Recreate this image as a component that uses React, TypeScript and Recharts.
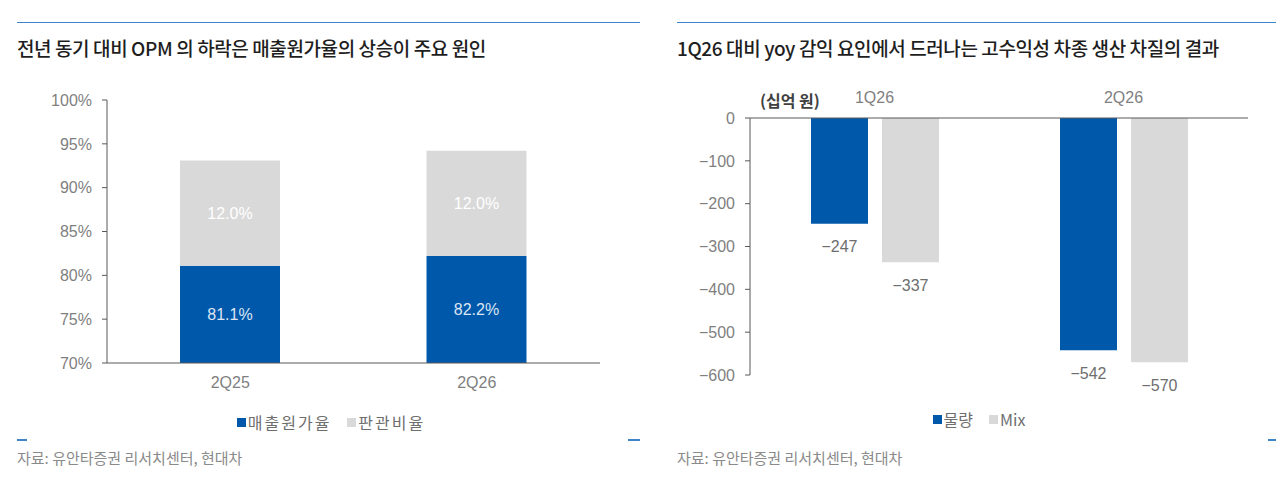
import { Bar, BarChart, LabelList, Legend, XAxis, YAxis } from "recharts";

// 좌: 매출원가율 / 판관비율 (%)
const quarters = ["2Q25", "2Q26"];
const cogsRatio = [81.1, 82.2];
const sgaRatio = [12.0, 12.0];
const pctTicks = [70, 75, 80, 85, 90, 95, 100];

// 우: yoy 감익 요인 (십억 원)
const periods = ["1Q26", "2Q26"];
const volumeEffect = [-247, -542];
const mixEffect = [-337, -570];
const wonTicks = [-600, -500, -400, -300, -200, -100, 0];

const BLUE = "#0058AB";
const GREY = "#D9D9D9";
const AXIS = "#595959";
const TICK = "#7F7F7F";
const FONT = "'Liberation Sans', 'Noto Sans CJK KR', sans-serif";
const KFONT = "'Noto Sans CJK KR', 'Noto Sans', sans-serif";

const ratioData = quarters.map((q, i) => ({ name: q, cogs: cogsRatio[i], sga: sgaRatio[i] }));
const effectData = periods.map((p, i) => ({ name: p, volume: volumeEffect[i], mix: mixEffect[i] }));

const LEFT_H = 440;
const LEFT_MARGIN = { top: 100, right: 40, bottom: 47, left: 47 };
const X_AXIS_H = 30;
const leftPlotBottom = LEFT_H - LEFT_MARGIN.bottom - X_AXIS_H;

const minus = (v: number) => (v < 0 ? `\u2212${Math.abs(v)}` : `${v}`);

function box(p: any) {
  const vb = p.viewBox ?? {};
  return {
    x: p.x ?? vb.x,
    y: p.y ?? vb.y,
    width: p.width ?? vb.width,
    height: p.height ?? vb.height,
  };
}

// label centred on the visible (clipped) part of the bar
function InsideLabel(props: any) {
  const { x, y, width, height } = box(props);
  const top = Math.min(y, y + height);
  const bottom = Math.min(Math.max(y, y + height), leftPlotBottom);
  return (
    <text
      x={x + width / 2}
      y={(top + bottom) / 2}
      textAnchor="middle"
      dominantBaseline="central"
      fill={props.fill}
      fontSize={16}
      fontFamily={FONT}
    >
      {Number(props.value).toFixed(1)}%
    </text>
  );
}

function BelowLabel(props: any) {
  const { x, y, width, height } = box(props);
  const bottom = Math.max(y, y + height);
  return (
    <text
      x={x + width / 2}
      y={bottom + 23}
      textAnchor="middle"
      dominantBaseline="central"
      fill="#6E6E6E"
      fontSize={16}
      fontFamily={FONT}
    >
      {minus(Number(props.value))}
    </text>
  );
}

function LegendRow({ payload, shift, spacing }: any) {
  return (
    <div style={{ display: "flex", justifyContent: "center", gap: 16, paddingLeft: shift, fontFamily: KFONT, fontSize: 16, color: "#6E6E6E", letterSpacing: spacing }}>
      {(payload ?? []).map((p: any) => (
        <span key={p.value} style={{ display: "flex", alignItems: "center", gap: 2 }}>
          <span style={{ width: 9, height: 9, background: p.color, display: "inline-block" }} />
          {p.value}
        </span>
      ))}
    </div>
  );
}

const titleStyle = {
  position: "absolute" as const,
  fontFamily: KFONT,
  fontSize: 19,
  fontWeight: 500,
  color: "#1E1E1E",
  top: 34,
  whiteSpace: "nowrap" as const,
  letterSpacing: -0.4,
};

const sourceStyle = {
  position: "absolute" as const,
  fontFamily: KFONT,
  fontSize: 15,
  color: "#8A8A8A",
  top: 447,
};

const rule = (left: number, width: number, top: number, h = 1) => (
  <div style={{ position: "absolute", left, top, width, height: h, background: "#3D85C6" }} />
);

const keepOrder = () => 0;

export default function App() {
  return (
    <div style={{ position: "absolute", left: 0, top: 0, width: 1280, height: 499, background: "#fff", overflow: "hidden" }}>
      {rule(17, 623, 22)}
      {rule(677, 599, 22)}
      <div style={{ ...titleStyle, left: 17 }}>전년 동기 대비 OPM 의 하락은 매출원가율의 상승이 주요 원인</div>
      <div style={{ ...titleStyle, left: 677 }}>1Q26 대비 yoy 감익 요인에서 드러나는 고수익성 차종 생산 차질의 결과</div>

      <div style={{ position: "absolute", left: 0, top: 0 }}>
        <BarChart width={640} height={LEFT_H} data={ratioData} margin={LEFT_MARGIN}>
          <XAxis
            dataKey="name"
            height={X_AXIS_H}
            tickLine={false}
            axisLine={{ stroke: AXIS }}
            tick={{ fill: TICK, fontSize: 16, fontFamily: FONT }}
            tickMargin={8}
          />
          <YAxis
            width={60}
            domain={[70, 100]}
            ticks={pctTicks}
            allowDataOverflow
            tickFormatter={(v: number) => `${v}%`}
            axisLine={{ stroke: AXIS }}
            tickLine={{ stroke: AXIS }}
            tickSize={5}
            tickMargin={10}
            tick={{ fill: TICK, fontSize: 16, fontFamily: FONT }}
          />
          <Legend
            verticalAlign="middle"
            align="center"
            itemSorter={keepOrder}
            content={(p: any) => <LegendRow payload={p.payload} shift={22} spacing={2} />}
            wrapperStyle={{ top: 410, left: 0, width: 640 }}
          />
          <Bar dataKey="cogs" name="매출원가율" stackId="a" fill={BLUE} barSize={100} isAnimationActive={false}>
            <LabelList dataKey="cogs" content={(p: any) => <InsideLabel {...p} fill="#DCE6F4" />} />
          </Bar>
          <Bar dataKey="sga" name="판관비율" stackId="a" fill={GREY} barSize={100} isAnimationActive={false}>
            <LabelList dataKey="sga" content={(p: any) => <InsideLabel {...p} fill="#FFFFFF" />} />
          </Bar>
        </BarChart>
      </div>

      <div style={{ position: "absolute", left: 640, top: 0 }}>
        <BarChart
          width={640}
          height={440}
          data={effectData}
          margin={{ top: 88, right: 32, bottom: 65, left: 50 }}
          barGap={14}
        >
          <XAxis
            dataKey="name"
            orientation="top"
            height={30}
            tickLine={false}
            axisLine={{ stroke: AXIS }}
            tick={{ fill: TICK, fontSize: 16, fontFamily: FONT }}
            tickMargin={9}
          />
          <YAxis
            width={60}
            domain={[-600, 0]}
            ticks={wonTicks}
            tickFormatter={minus}
            axisLine={{ stroke: AXIS }}
            tickLine={{ stroke: AXIS }}
            tickSize={5}
            tickMargin={10}
            tick={{ fill: TICK, fontSize: 16, fontFamily: FONT }}
          />
          <Legend
            verticalAlign="middle"
            align="center"
            itemSorter={keepOrder}
            content={(p: any) => <LegendRow payload={p.payload} shift={38} spacing={0} />}
            wrapperStyle={{ top: 407, left: 0, width: 640 }}
          />
          <Bar dataKey="volume" name="물량" fill={BLUE} barSize={57} isAnimationActive={false}>
            <LabelList dataKey="volume" content={(p: any) => <BelowLabel {...p} />} />
          </Bar>
          <Bar dataKey="mix" name="Mix" fill={GREY} barSize={57} isAnimationActive={false}>
            <LabelList dataKey="mix" content={(p: any) => <BelowLabel {...p} />} />
          </Bar>
        </BarChart>
      </div>

      <div style={{ position: "absolute", left: 760, top: 88, fontFamily: KFONT, fontSize: 16, fontWeight: 700, color: "#404040" }}>
        (십억 원)
      </div>

      {rule(17, 10, 439, 2)}
      {rule(628, 12, 439, 2)}
      {rule(1268, 8, 439, 2)}
      <div style={{ ...sourceStyle, left: 17 }}>자료: 유안타증권 리서치센터, 현대차</div>
      <div style={{ ...sourceStyle, left: 677 }}>자료: 유안타증권 리서치센터, 현대차</div>
    </div>
  );
}
